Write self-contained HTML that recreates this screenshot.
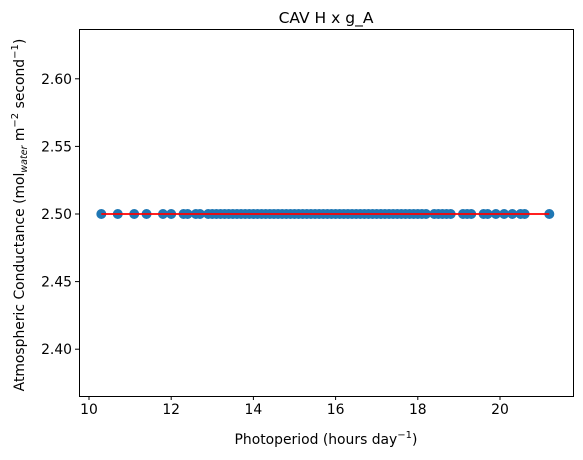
<!DOCTYPE html>
<html><head><meta charset="utf-8"><style>
body{margin:0;background:#fff;}
svg{display:block;font-family:"DejaVu Sans","Liberation Sans",sans-serif;}
</style></head><body>
<svg id="chart" width="583" height="460">
<text x="326" y="23" font-size="15.5" text-anchor="middle">CAV H x g_A</text>
<g id="marks"></g>
<rect x="79.5" y="29.5" width="494" height="367" fill="none" stroke="#000" stroke-width="1"/>
<g id="axes"></g>
<text x="326" y="444" font-size="13.9" text-anchor="middle">Photoperiod (hours day<tspan font-size="10" dy="-6">−1</tspan><tspan dy="6">)</tspan></text>
<text transform="translate(24,215) rotate(-90)" font-size="13.9" text-anchor="middle">Atmospheric Conductance (mol<tspan font-size="9.5" font-style="italic" dy="3">water</tspan><tspan dy="-3"> m</tspan><tspan font-size="10" dy="-6">−2</tspan><tspan dy="6"> second</tspan><tspan font-size="10" dy="-6">−1</tspan><tspan dy="6">)</tspan></text>
</svg>
<script>
const xTicks=[10,12,14,16,18,20];
const yTicks=[2.40,2.45,2.50,2.55,2.60];
const photoperiod=[10.3,10.7,11.1,11.4,11.8,12.0,12.3,12.4,12.6,12.7,12.9,13.0,13.1,13.2,13.3,13.4,13.5,13.6,13.7,13.8,13.9,14.0,14.1,14.2,14.3,14.4,14.5,14.6,14.7,14.8,14.9,15.0,15.1,15.2,15.3,15.4,15.5,15.6,15.7,15.8,15.9,16.0,16.1,16.2,16.3,16.4,16.5,16.6,16.7,16.8,16.9,17.0,17.1,17.2,17.3,17.4,17.5,17.6,17.7,17.8,17.9,18.0,18.1,18.2,18.4,18.5,18.6,18.7,18.8,19.1,19.2,19.3,19.6,19.7,19.9,20.1,20.3,20.5,20.6,21.2];
const conductance=photoperiod.map(()=>2.5);
const fitX=[10.3,21.2];
const fitY=[2.5,2.5];
const X=v=>89+(v-10)*41.1;
const Y=v=>214-(v-2.5)*1352;
const ns="http://www.w3.org/2000/svg";
const axes=document.getElementById('axes'),marks=document.getElementById('marks');
function mk(tag,attrs,parent){const e=document.createElementNS(ns,tag);for(const k in attrs)e.setAttribute(k,attrs[k]);parent.appendChild(e);return e;}
xTicks.forEach(t=>{
 const l=mk('line',{x1:X(t),x2:X(t),y1:396,y2:400,stroke:'#000'},axes);
 
 
 const tx=mk('text',{x:X(t),y:414,'font-size':13.9,'text-anchor':'middle'},axes);tx.textContent=t;
 
 
});
yTicks.forEach(t=>{
 const l=mk('line',{x1:75,x2:79,y1:Y(t),y2:Y(t),stroke:'#000'},axes);
 
 
 const tx=mk('text',{x:72,y:Y(t)+5,'font-size':13.9,'text-anchor':'end'},axes);tx.textContent=t.toFixed(2);
 
 
});
photoperiod.forEach((v,i)=>{
 const c=mk('circle',{cx:X(v),cy:Y(conductance[i]),r:5,fill:'#1f77b4'},marks);
 
 
});
const fl=mk('line',{x1:X(fitX[0]),x2:X(fitX[1]),y1:Y(fitY[0]),y2:Y(fitY[1]),stroke:'#ff0000','stroke-width':1.8},marks);


</script>
</body></html>
